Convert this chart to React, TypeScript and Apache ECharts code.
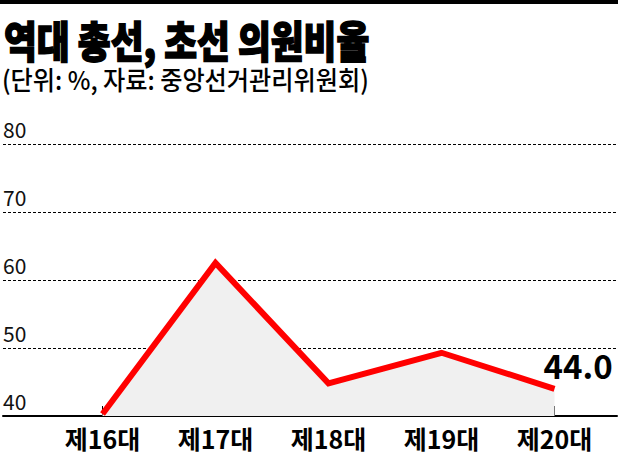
import { useEffect, useRef } from "react";
import * as echarts from "echarts";

const categories = ["제16대", "제17대", "제18대", "제19대", "제20대"];
const firstTermRatio = [40.3, 62.5, 44.8, 49.3, 44.0];
const yTicks = [40, 50, 60, 70, 80];

const TITLE = "역대 총선, 초선 의원비율";
const SUBTITLE = "(단위: %, 자료: 중앙선거관리위원회)";

const NARROW = "'Liberation Sans Narrow', 'Noto Sans CJK KR', sans-serif";
const KR = "'Noto Sans CJK KR', sans-serif";

export default function App() {
  const chartRef = useRef<HTMLDivElement>(null);

  useEffect(() => {
    if (!chartRef.current) return;
    const chart = echarts.init(chartRef.current, undefined, { renderer: "svg" });

    const yMin = yTicks[0];
    const yMax = yTicks[yTicks.length - 1];

    chart.setOption({
      animation: false,
      backgroundColor: "#ffffff",
      graphic: [
        // top rule
        { type: "rect", left: 0, top: 0, shape: { width: 618, height: 4 }, style: { fill: "#000" } },
        {
          type: "text",
          x: 4,
          y: 17,
          scaleX: 0.83,
          style: {
            text: TITLE,
            fontFamily: KR,
            fontWeight: 900,
            fontSize: 43,
            fill: "#000",
            stroke: "#000",
            lineWidth: 1.6,
          },
        },
        {
          type: "text",
          x: 2,
          y: 66,
          scaleX: 0.93,
          style: {
            text: SUBTITLE,
            fontFamily: KR,
            fontWeight: 500,
            fontSize: 26,
            fill: "#000",
          },
        },
      ],
      grid: [
        // full-width grid for gridlines and baseline
        { left: 0, right: 1, top: 144, height: 272 },
        // data grid
        { left: 46, right: 7, top: 144, height: 272 },
      ],
      xAxis: [
        {
          gridIndex: 0,
          type: "value",
          min: 0,
          max: 1,
          axisLine: { show: true, onZero: false, lineStyle: { color: "#000", width: 2 } },
          axisTick: { show: false },
          axisLabel: { show: false },
          splitLine: { show: false },
        },
        {
          gridIndex: 1,
          type: "category",
          data: categories,
          boundaryGap: true,
          axisLine: { show: false },
          axisTick: {
            show: true,
            inside: true,
            alignWithLabel: true,
            length: 10,
            lineStyle: { color: "#000", width: 1 },
          },
          axisLabel: {
            margin: 9,
            fontFamily: NARROW,
            fontSize: 25,
            lineHeight: 25,
            fontWeight: 600,
            color: "#000",
          },
        },
      ],
      yAxis: [
        {
          gridIndex: 0,
          type: "value",
          min: yMin,
          max: yMax,
          interval: 10,
          axisLine: { show: false },
          axisTick: { show: false },
          axisLabel: {
            inside: true,
            margin: 0,
            verticalAlign: "bottom",
            padding: [0, 0, 5, 0],
            fontFamily: NARROW,
            fontSize: 21,
            color: "#111",
          },
          splitLine: {
            show: true,
            lineStyle: { color: "#000", width: 1, type: [3, 2] },
          },
        },
        {
          gridIndex: 1,
          type: "value",
          min: yMin,
          max: yMax,
          interval: 10,
          show: false,
        },
      ],
      series: [
        {
          type: "line",
          xAxisIndex: 1,
          yAxisIndex: 1,
          symbol: "none",
          lineStyle: { color: "#ff0000", width: 6, join: "miter" },
          areaStyle: { color: "#f0f0f0", opacity: 1, origin: "start" },
          endLabel: {
            show: true,
            distance: 0,
            offset: [-11, -24],
            formatter: (p: { value: number }) => Number(p.value).toFixed(1),
            fontFamily: NARROW,
            fontWeight: "bold",
            fontSize: 33,
            color: "#000",
          },
          data: firstTermRatio,
          z: 3,
        },
      ],
    });

    return () => {
      chart.dispose();
    };
  }, []);

  return (
    <div
      ref={chartRef}
      style={{ position: "fixed", left: 0, top: 0, width: 618, height: 454 }}
    />
  );
}
